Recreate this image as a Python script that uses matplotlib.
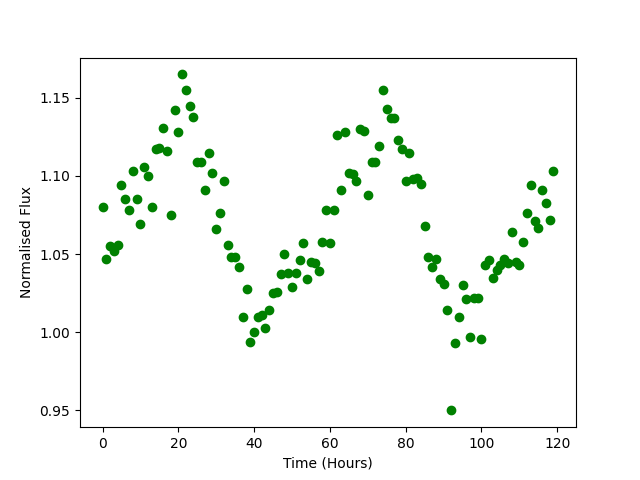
import matplotlib
matplotlib.use("Agg")
import matplotlib.pyplot as plt

# Time in hours and normalised flux
time_hours = list(range(120))
flux = [
    1.080, 1.047, 1.055, 1.052, 1.056, 1.094, 1.085, 1.078, 1.103, 1.085,
    1.069, 1.106, 1.100, 1.080, 1.117, 1.118, 1.131, 1.116, 1.075, 1.142,
    1.128, 1.165, 1.155, 1.145, 1.138, 1.109, 1.109, 1.091, 1.115, 1.102,
    1.066, 1.076, 1.097, 1.056, 1.048, 1.048, 1.042, 1.010, 1.028, 0.994,
    1.000, 1.010, 1.011, 1.003, 1.014, 1.025, 1.026, 1.037, 1.050, 1.038,
    1.029, 1.038, 1.046, 1.057, 1.034, 1.045, 1.044, 1.039, 1.058, 1.078,
    1.057, 1.078, 1.126, 1.091, 1.128, 1.102, 1.101, 1.097, 1.130, 1.129,
    1.088, 1.109, 1.109, 1.119, 1.155, 1.143, 1.137, 1.137, 1.123, 1.117,
    1.097, 1.115, 1.098, 1.099, 1.095, 1.068, 1.048, 1.042, 1.047, 1.034,
    1.031, 1.014, 0.950, 0.993, 1.010, 1.030, 1.021, 0.997, 1.022, 1.022,
    0.996, 1.043, 1.046, 1.035, 1.040, 1.043, 1.047, 1.044, 1.064, 1.045,
    1.043, 1.058, 1.076, 1.094, 1.071, 1.067, 1.091, 1.083, 1.072, 1.103,
]

plt.figure(figsize=(6.4, 4.8), dpi=100)
plt.plot(time_hours, flux, 'go')
plt.xlabel('Time (Hours)')
plt.ylabel('Normalised Flux')
plt.savefig("out.png")
